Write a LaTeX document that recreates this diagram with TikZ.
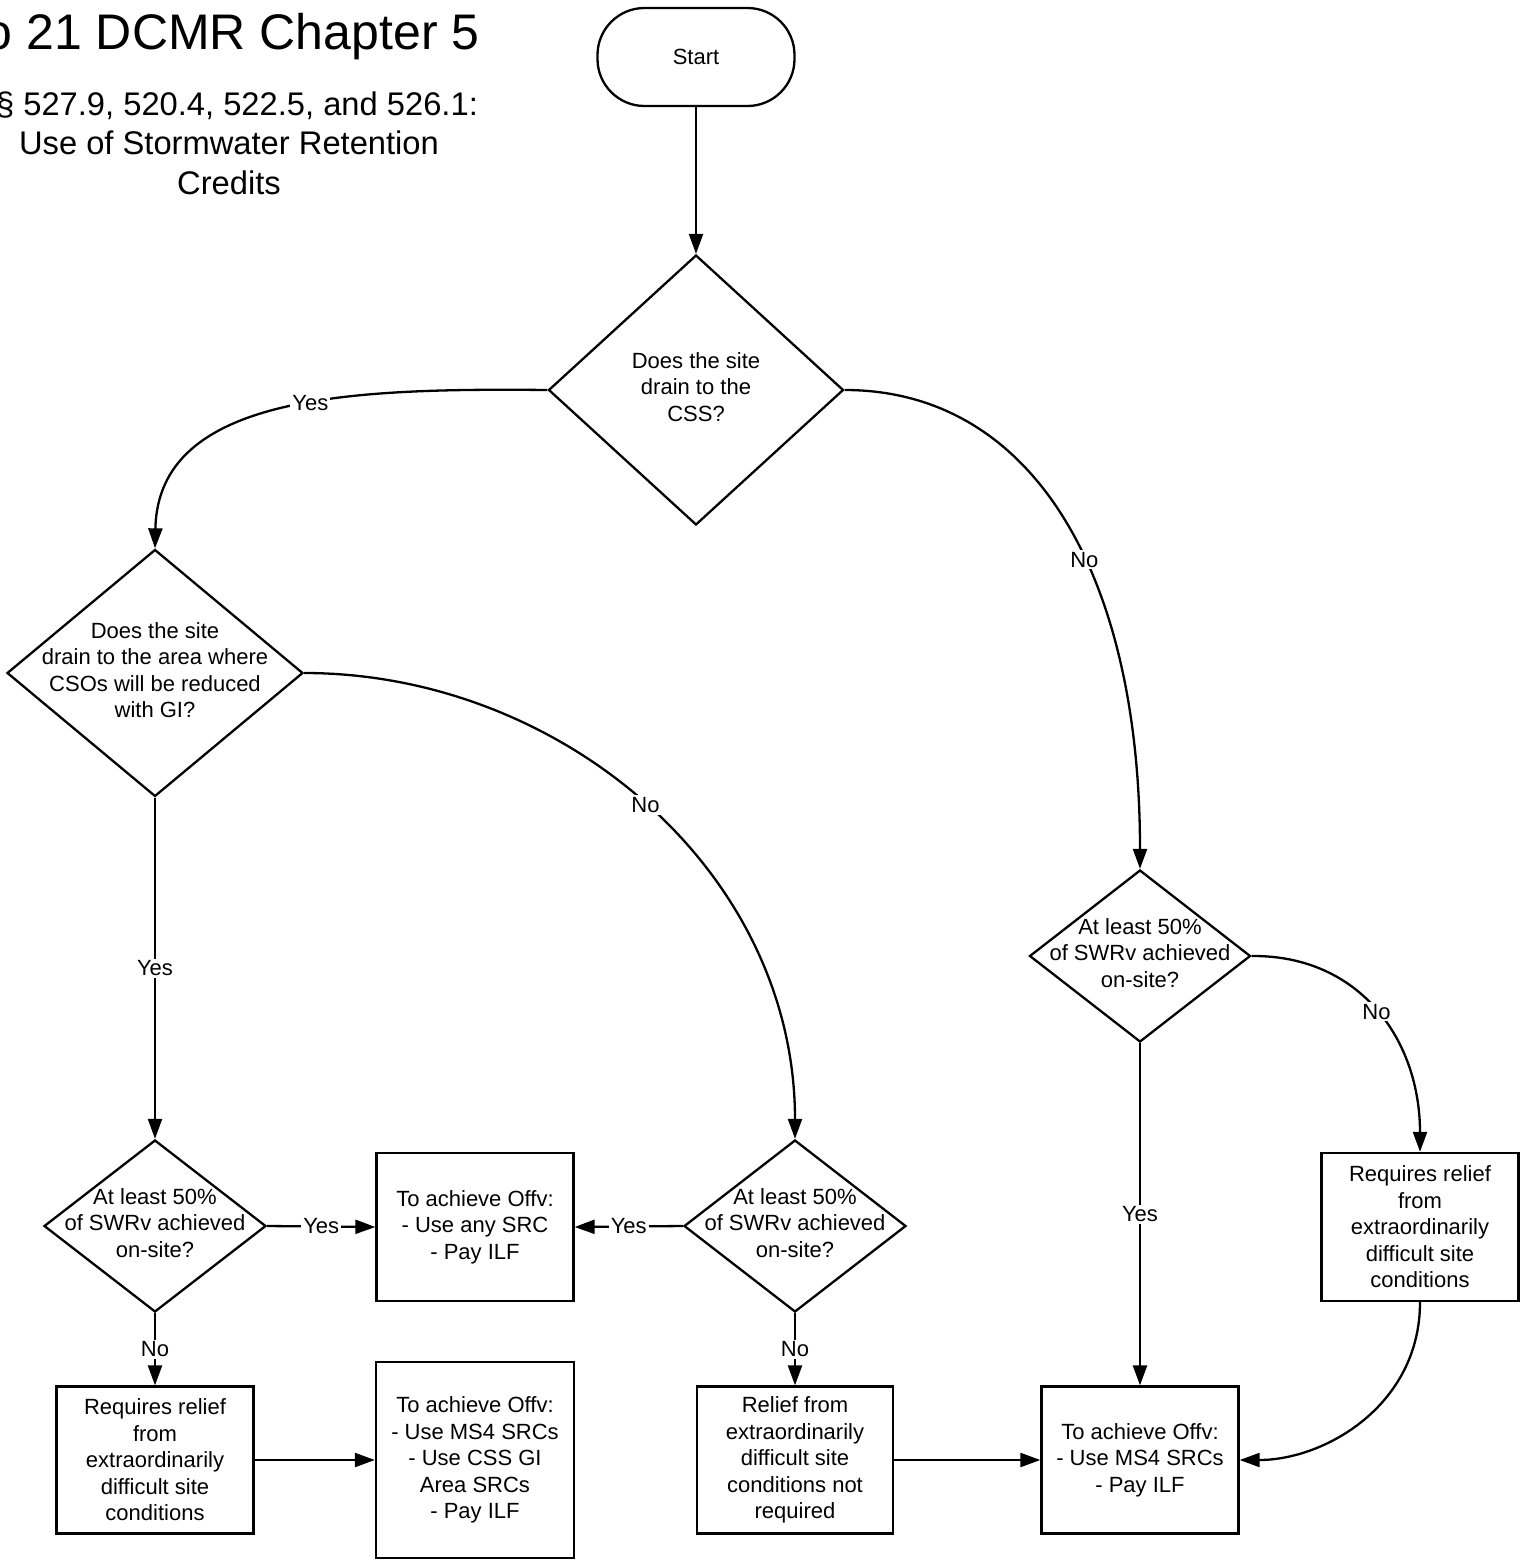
\documentclass[tikz,border=0pt]{standalone}
\usepackage{fontspec}
\setmainfont{Liberation Sans}
\usetikzlibrary{shapes.geometric,arrows.meta}

\tikzset{
  every node/.style={font=\fontsize{22}{26.5}\selectfont},
  flow/.style={line width=2.3pt, -{Triangle[length=20pt,width=14pt]}},
  terminal/.style={draw, line width=2.3pt, rounded corners=47pt, minimum width=197pt, minimum height=98pt},
  decision/.style={diamond, draw, line width=2.3pt, inner sep=0pt},
  process/.style={draw, line width=2.3pt, align=center, inner sep=4pt},
  qtext/.style={align=center, yshift=3pt},
  lbl/.style={fill=white, inner sep=2pt}
}

\begin{document}
\begin{tikzpicture}[x=1pt, y=-1pt]
    \useasboundingbox (0,0) rectangle (1523,1560);

    % Heading
    \node[anchor=base east, font=\fontsize{50}{60}\selectfont] (title) at (483,50) {o 21 DCMR Chapter 5};
    \node[align=center, font=\fontsize{32.7}{39.5}\selectfont] (subtitle) at (229,143)
        {\hspace*{16pt}§ 527.9, 520.4, 522.5, and 526.1:\\Use of Stormwater Retention\\Credits};

    % Start and first question
    \node[terminal] (start) at (696,57) {Start};
    \node[decision, minimum width=295pt, minimum height=270pt,
          label={[qtext]center:Does the site\\drain to the\\CSS?}] (drainscss) at (696,390) {};

    % CSS branch
    \node[decision, minimum width=296pt, minimum height=247pt,
          label={[qtext]center:Does the site\\drain to the area where\\CSOs will be reduced\\with GI?}] (gicso) at (155,673) {};
    \node[decision, minimum width=222pt, minimum height=172pt,
          label={[qtext]center:At least 50\%\\of SWRv achieved\\on-site?}] (gipct) at (155,1226) {};
    \node[decision, minimum width=222pt, minimum height=172pt,
          label={[qtext]center:At least 50\%\\of SWRv achieved\\on-site?}] (nogipct) at (795,1226) {};

    \node[process, minimum width=197pt, minimum height=148pt] (anysrc) at (475,1227)
        {To achieve Offv:\\- Use any SRC\\- Pay ILF};
    \node[process, minimum width=197pt, minimum height=147pt] (gireli) at (155,1460)
        {Requires relief\\from\\extraordinarily\\difficult site\\conditions};
    \node[process, minimum width=198pt, minimum height=196pt] (gisrc) at (475,1460)
        {To achieve Offv:\\- Use MS4 SRCs\\- Use CSS GI\\Area SRCs\\- Pay ILF};
    \node[process, minimum width=196pt, minimum height=147pt] (norelief) at (795,1460)
        {Relief from\\extraordinarily\\difficult site\\conditions not\\required};

    % MS4 branch
    \node[decision, minimum width=221pt, minimum height=172pt,
          label={[qtext]center:At least 50\%\\of SWRv achieved\\on-site?}] (ms4pct) at (1140,956) {};
    \node[process, minimum width=197pt, minimum height=148pt] (ms4reli) at (1420,1227)
        {Requires relief\\from\\extraordinarily\\difficult site\\conditions};
    \node[process, minimum width=197pt, minimum height=147pt] (ms4src) at (1140,1460)
        {To achieve Offv:\\- Use MS4 SRCs\\- Pay ILF};

    % Connectors
    \draw[flow] (start) -- (drainscss.north);
    \draw[flow] (drainscss.west) .. controls (350,388) and (158,395) .. node[lbl, pos=0.43] {Yes} (gicso.north);
    \draw[flow] (drainscss.east) .. controls (1030,390) and (1140,570) .. node[lbl, pos=0.58] {No} (ms4pct.north);
    \draw[flow] (gicso.south) -- node[lbl] {Yes} (gipct.north);
    \draw[flow] (gicso.east) .. controls (560,673) and (795,870) .. node[lbl, pos=0.5] {No} (nogipct.north);
    \draw[flow] (gipct.east) -- node[lbl] {Yes} (anysrc.west);
    \draw[flow] (nogipct.west) -- node[lbl] {Yes} (anysrc.east);
    \draw[flow] (gipct.south) -- node[lbl] {No} (gireli.north);
    \draw[flow] (nogipct.south) -- node[lbl] {No} (norelief.north);
    \draw[flow] (gireli.east) -- (gireli.east -| gisrc.west);
    \draw[flow] (norelief) -- (ms4src);
    \draw[flow] (ms4pct.south) -- node[lbl] {Yes} (ms4src.north);
    \draw[flow] (ms4pct.east) .. controls (1360,955) and (1420,1040) .. node[lbl, pos=0.5] {No} (ms4reli.north);
    \draw[flow] (ms4reli.south) .. controls (1420,1405) and (1325,1460) .. (ms4src.east);
\end{tikzpicture}
\end{document}
